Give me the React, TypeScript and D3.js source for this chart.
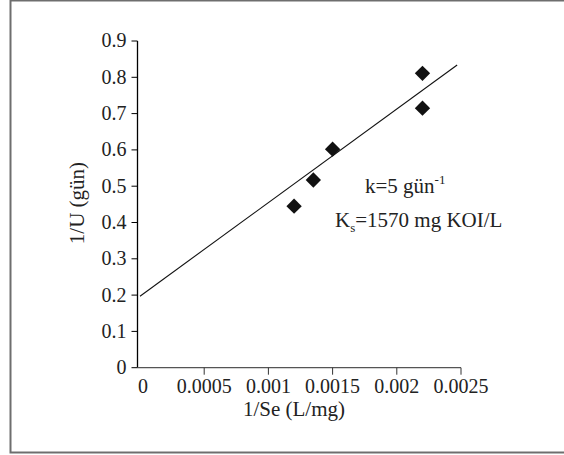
import React from 'react';
import * as d3 from 'd3';

// 1/Se (L/mg) ve 1/U (gün) ölçüm noktaları
const seInv = [0.0012, 0.00135, 0.0015, 0.0022, 0.0022];
const uInv = [0.445, 0.517, 0.602, 0.811, 0.715];

// doğrusal regresyon çizgisinin uç noktaları
const fitX = [0, 0.00247];
const fitY = [0.197, 0.834];

const xTicks = [0, 0.0005, 0.001, 0.0015, 0.002, 0.0025];
const yTicks = [0, 0.1, 0.2, 0.3, 0.4, 0.5, 0.6, 0.7, 0.8, 0.9];

const xTitle = '1/Se (L/mg)';
const yTitle = '1/U (gün)';

const TXT = '#222';
const fs = (size: number) => ({ fontFamily: '"Liberation Serif"', fontSize: size });

export default function App() {
  const x = d3.scaleLinear().domain([0, 0.0025]).range([140, 461]);
  const y = d3.scaleLinear().domain([0, 0.9]).range([367.7, 41]);
  const axisX = 137.5;
  const y0 = y(0);

  const line = d3.line<number>()
    .x((d, i) => x(fitX[i]))
    .y(d => y(d));
  const diamond = d3.symbol().type(d3.symbolDiamond2).size(150)() as string;

  return (
    <div style={{ position: 'absolute', left: 0, top: 0 }}>
      <svg width={564} height={455} style={{ display: 'block', background: '#fff' }}>
        {/* çerçeve, sağ kenarı görüntünün dışında */}
        <rect x={10.5} y={0.5} width={600} height={452} fill="none" stroke="#6e6e6e" strokeWidth={2} />

        {/* y ekseni */}
        <line x1={axisX} x2={axisX} y1={y(0.9)} y2={y0} stroke="#000" strokeWidth={1.3} />
        {yTicks.map(t => (
          <g key={t} transform={`translate(0,${y(t)})`}>
            <line x1={axisX - 6} x2={axisX} stroke="#000" />
            <text x={axisX - 11} dy="0.32em" textAnchor="end" style={fs(20)} fill={TXT}>{String(t)}</text>
          </g>
        ))}

        {/* x ekseni */}
        <line x1={axisX} x2={x(0.0025)} y1={y0} y2={y0} stroke="#555" strokeWidth={1.3} />
        {xTicks.map(t => (
          <g key={t} transform={`translate(${x(t)},${y0})`}>
            {t > 0 && <line y1={0} y2={7} stroke="#333" />}
            <text x={t === 0 ? 3 : 0} y={25} textAnchor="middle" style={fs(20)} fill={TXT}>{String(t)}</text>
          </g>
        ))}

        {/* eksen başlıkları */}
        <text x={294} y={416} textAnchor="middle" style={fs(21)} fill={TXT}>{xTitle}</text>
        <text transform="translate(84,203) rotate(-90)" textAnchor="middle" style={fs(21)} fill={TXT}>{yTitle}</text>

        {/* regresyon çizgisi */}
        <path d={line(fitY) || ''} fill="none" stroke="#111" strokeWidth={1.1} />

        {/* noktalar */}
        {seInv.map((d, i) => (
          <path key={i} d={diamond} transform={`translate(${x(d)},${y(uInv[i])})`} fill="#111" />
        ))}

        {/* açıklama */}
        <text x={365} y={193} style={fs(21)} fill={TXT}>
          k=5 gün<tspan dy={-9} style={{ fontSize: 13 }}>-1</tspan>
        </text>
        <text x={335} y={227} style={fs(21)} fill={TXT}>
          K<tspan dy={5} style={{ fontSize: 13 }}>s</tspan><tspan dy={-5}>=1570 mg KOI/L</tspan>
        </text>
      </svg>
    </div>
  );
}
